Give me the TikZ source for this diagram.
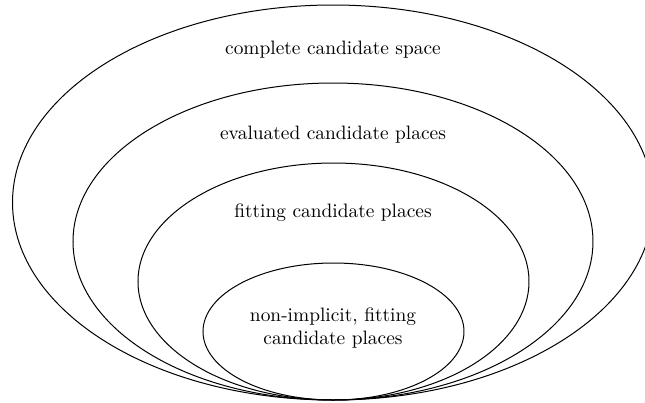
\documentclass[tikz,border=0pt]{standalone}
\usetikzlibrary{shapes.geometric}
\begin{document}
\begin{tikzpicture}[x=0.5pt,y=-0.5pt,
  ring/.style={draw=black,line width=0.5pt,ellipse,inner sep=0pt},
  lbl/.style={align=center,font=\fontsize{9.7}{11.5}\selectfont}]
\clip (0,0) rectangle (645,403);
\useasboundingbox (0,0) rectangle (645,403);
\node[ring,minimum width=641pt*0.5,minimum height=395pt*0.5] (e1) at (333,202.5) {};
\node[ring,minimum width=520pt*0.5,minimum height=317pt*0.5] (e2) at (333,241.5) {};
\node[ring,minimum width=391pt*0.5,minimum height=237pt*0.5] (e3) at (333.5,281.5) {};
\node[ring,minimum width=261pt*0.5,minimum height=137pt*0.5] (e4) at (333.5,331.5) {};
\node[lbl] (t1) at (333,50) {complete candidate space};
\node[lbl] (t2) at (333,135) {evaluated candidate places};
\node[lbl] (t3) at (333,213) {fitting candidate places};
\node[lbl] (t4) at (333,328) {non-implicit, fitting\\candidate places};
\end{tikzpicture}
\end{document}
